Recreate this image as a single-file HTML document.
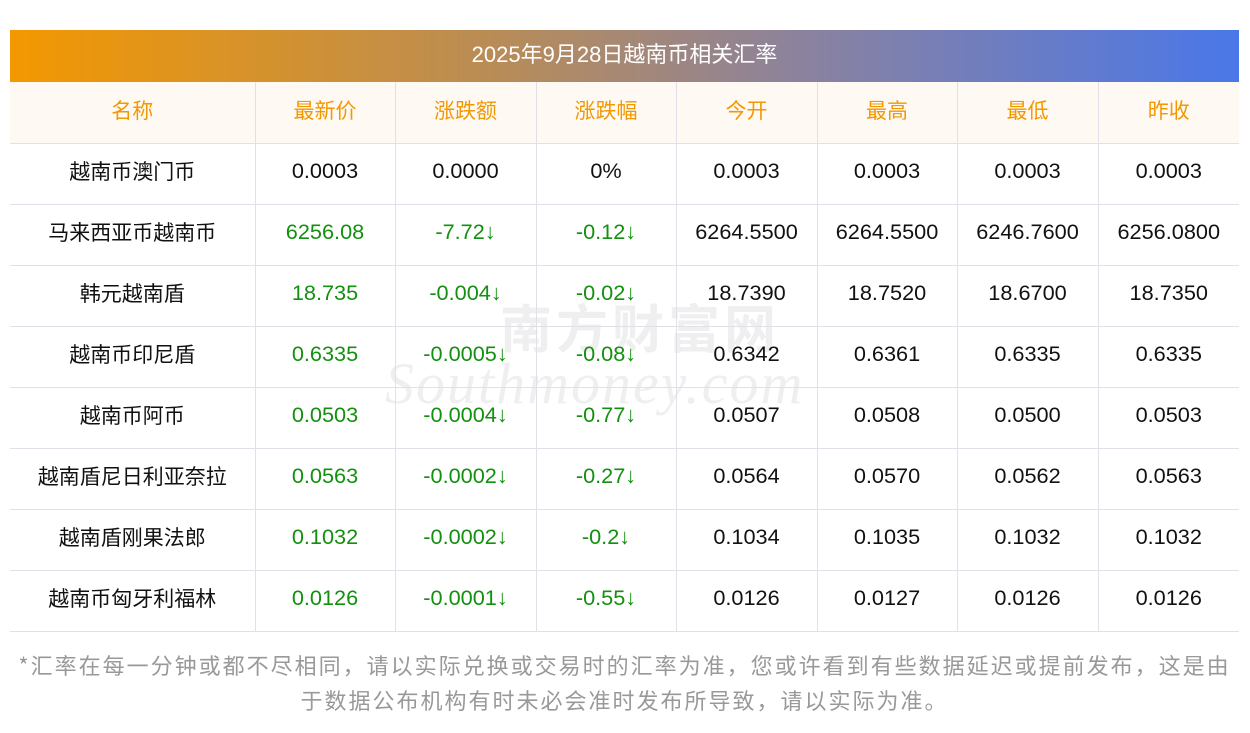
<!DOCTYPE html>
<html><head><meta charset="utf-8"><style>
body{margin:0;width:1250px;height:733px;background:#fff;font-family:"Liberation Sans","Noto Sans CJK SC",sans-serif;position:relative;overflow:hidden}
.bar{position:absolute;left:10px;top:30px;width:1229px;height:52px;background:linear-gradient(90deg,#f39800,#b88c58 40%,#8a82a0 65%,#4a77e8);color:#fff;font-size:22px;line-height:50px;text-align:center}
table{position:absolute;left:10px;top:82px;width:1229px;border-collapse:collapse;table-layout:fixed}
td{height:61px;border-bottom:1px solid #dfe0e8;border-left:1px solid #dfe0e8;text-align:center;font-size:21.7px;color:#111;padding:0 0 5px 0;box-sizing:border-box}
td:first-child{border-left:none;font-family:"Noto Sans CJK SC",sans-serif;font-size:21px}
tr.h td{background:#fef9f3;color:#f39800;font-family:"Noto Sans CJK SC",sans-serif;font-size:21px}
.g{color:#13900f}
.wm{position:absolute;left:385px;top:350px;font-size:58px;color:rgba(215,215,215,.4);font-style:italic;font-family:"Liberation Serif",serif;letter-spacing:2px}
.wm2{position:absolute;left:500px;top:288px;font-size:52px;color:rgba(215,215,215,.4);font-family:"Noto Sans CJK SC",sans-serif;font-weight:bold;letter-spacing:4px}
.note{position:absolute;left:10px;top:648px;width:1229px;text-align:center;color:#999;font-size:22px;line-height:35px;letter-spacing:2px;font-family:"Noto Sans CJK SC",sans-serif}
</style></head><body>
<div class="bar">2025年9月28日越南币相关汇率</div>
<div class="wm2">南方财富网</div>
<div class="wm">Southmoney.com</div>
<table>
<colgroup><col style="width:245px"><col style="width:140px"><col style="width:141px"><col style="width:140px"><col style="width:141px"><col style="width:140px"><col style="width:141px"><col style="width:141px"></colgroup>
<tr class="h"><td>名称</td><td>最新价</td><td>涨跌额</td><td>涨跌幅</td><td>今开</td><td>最高</td><td>最低</td><td>昨收</td></tr>
<tr><td>越南币澳门币</td><td>0.0003</td><td>0.0000</td><td>0%</td><td>0.0003</td><td>0.0003</td><td>0.0003</td><td>0.0003</td></tr>
<tr><td>马来西亚币越南币</td><td class="g">6256.08</td><td class="g">-7.72↓</td><td class="g">-0.12↓</td><td>6264.5500</td><td>6264.5500</td><td>6246.7600</td><td>6256.0800</td></tr>
<tr><td>韩元越南盾</td><td class="g">18.735</td><td class="g">-0.004↓</td><td class="g">-0.02↓</td><td>18.7390</td><td>18.7520</td><td>18.6700</td><td>18.7350</td></tr>
<tr><td>越南币印尼盾</td><td class="g">0.6335</td><td class="g">-0.0005↓</td><td class="g">-0.08↓</td><td>0.6342</td><td>0.6361</td><td>0.6335</td><td>0.6335</td></tr>
<tr><td>越南币阿币</td><td class="g">0.0503</td><td class="g">-0.0004↓</td><td class="g">-0.77↓</td><td>0.0507</td><td>0.0508</td><td>0.0500</td><td>0.0503</td></tr>
<tr><td>越南盾尼日利亚奈拉</td><td class="g">0.0563</td><td class="g">-0.0002↓</td><td class="g">-0.27↓</td><td>0.0564</td><td>0.0570</td><td>0.0562</td><td>0.0563</td></tr>
<tr><td>越南盾刚果法郎</td><td class="g">0.1032</td><td class="g">-0.0002↓</td><td class="g">-0.2↓</td><td>0.1034</td><td>0.1035</td><td>0.1032</td><td>0.1032</td></tr>
<tr><td>越南币匈牙利福林</td><td class="g">0.0126</td><td class="g">-0.0001↓</td><td class="g">-0.55↓</td><td>0.0126</td><td>0.0127</td><td>0.0126</td><td>0.0126</td></tr>
</table>
<div class="note">*汇率在每一分钟或都不尽相同，请以实际兑换或交易时的汇率为准，您或许看到有些数据延迟或提前发布，这是由<br>于数据公布机构有时未必会准时发布所导致，请以实际为准。</div>
</body></html>
